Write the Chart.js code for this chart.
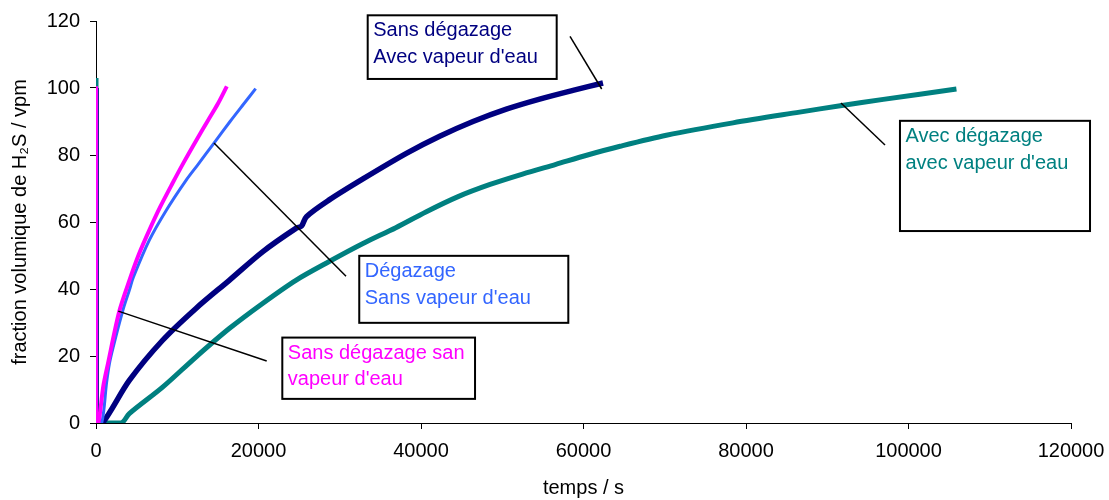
<!DOCTYPE html>
<html>
<head>
<meta charset="utf-8">
<script src="https://cdn.jsdelivr.net/npm/chart.js@4"></script>
<style>
  body { margin: 0; background: #fff; }
  .wrap { width: 1109px; height: 500px; }
</style>
</head>
<body>
<div class="wrap"><canvas id="chart"></canvas></div>
<script>
// temps (s) / fraction volumique (vpm)
const magentaT = [0, 0, 300, 900, 1450, 2850, 4100, 5300, 6550, 7900, 9400, 10800, 12300, 13800, 15000, 16100];
const magentaV = [100.5, 0, 0, 11, 17.5, 33.2, 42.5, 50.5, 57.5, 64.5, 71.5, 77.8, 84.2, 90.4, 95.3, 100.5];

const blueT = [0, 0, 700, 1300, 1650, 2100, 3350, 4100, 4600, 6550, 8600, 11100, 12500, 14500, 16500, 18100, 19650];
const blueV = [100, 0, 0, 12, 17.7, 22.5, 34, 39.6, 43.5, 54.5, 63.3, 72.5, 77, 83.5, 90, 95, 99.8];

const navyT = [0, 0, 800, 4100, 8200, 12300, 16400, 20500, 24600, 25300, 25900, 28700, 32800, 38200, 42300, 46400, 50500, 54600, 58700, 62400];
const navyV = [100, 0, 0, 12.7, 24.7, 34.2, 42.6, 51.1, 58.1, 58.8, 61.6, 66.6, 72.8, 80.5, 85.6, 90, 93.7, 96.7, 99.3, 101.5];

const tealT = [0, 0, 3100, 4100, 8200, 12300, 16400, 20500, 24600, 28700, 32800, 36900, 40600, 44500, 48500, 52500, 56600, 60500, 64500, 70200, 78400, 86600, 91600, 96900, 105900];
const tealV = [103, 0, 0, 2.8, 10.7, 19.7, 28.2, 35.7, 42.6, 48.2, 53.5, 58.3, 63, 67.5, 71.2, 74.3, 77.2, 80, 82.6, 85.9, 89.6, 92.8, 94.7, 96.6, 99.7];

const seriesNames = [
  "Sans dégazage san vapeur d'eau",
  "Dégazage Sans vapeur d'eau",
  "Sans dégazage Avec vapeur d'eau",
  "Avec dégazage avec vapeur d'eau"
];

const xTicks = [0, 20000, 40000, 60000, 80000, 100000, 120000];
const yTicks = [0, 20, 40, 60, 80, 100, 120];

const toPoints = (ts, vs) => ts.map((t, i) => ({ x: t, y: vs[i] }));

const FONT = "'Liberation Sans', Arial, sans-serif";

// callout boxes, in axis units (box corners, then connector ends)
const callouts = [
  { lines: ["Sans dégazage", "Avec vapeur d'eau"], color: "#000080",
    box: [33440, 121.7, 56700, 102.7], line: [58340, 115.4, 62240, 99.7] },
  { lines: ["Avec dégazage", "avec vapeur d'eau"], color: "#008080",
    box: [98950, 90.2, 122340, 57.3], line: [91690, 95.5, 97110, 83.0] },
  { lines: ["Dégazage", "Sans vapeur d'eau"], color: "#3366FF",
    box: [32400, 49.9, 58130, 29.9], line: [14520, 83.6, 30770, 43.8] },
  { lines: ["Sans dégazage san", "vapeur d'eau"], color: "#FF00FF",
    box: [22930, 25.5, 46650, 7.2], line: [2740, 33.4, 21010, 18.5] }
];

const calloutPlugin = {
  id: "callouts",
  afterDatasetsDraw(chart) {
    const { ctx } = chart;
    const xs = chart.scales.x, ys = chart.scales.y;
    ctx.save();
    callouts.forEach(c => {
      ctx.strokeStyle = "#000";
      ctx.lineWidth = 1.5;
      ctx.beginPath();
      ctx.moveTo(xs.getPixelForValue(c.line[0]), ys.getPixelForValue(c.line[1]));
      ctx.lineTo(xs.getPixelForValue(c.line[2]), ys.getPixelForValue(c.line[3]));
      ctx.stroke();

      const x0 = xs.getPixelForValue(c.box[0]);
      const y0 = ys.getPixelForValue(c.box[1]);
      const x1 = xs.getPixelForValue(c.box[2]);
      const y1 = ys.getPixelForValue(c.box[3]);
      ctx.fillStyle = "#fff";
      ctx.fillRect(x0, y0, x1 - x0, y1 - y0);
      ctx.lineWidth = 2;
      ctx.strokeRect(x0, y0, x1 - x0, y1 - y0);

      ctx.fillStyle = c.color;
      ctx.font = "20px " + FONT;
      ctx.textBaseline = "alphabetic";
      ctx.textAlign = "left";
      c.lines.forEach((s, i) => ctx.fillText(s, x0 + 5.5, y0 + 21 + i * 26.7));
    });
    ctx.restore();
  }
};

Chart.defaults.color = "#000";
Chart.defaults.font.family = FONT;
Chart.defaults.font.size = 20;

new Chart(document.getElementById("chart"), {
  type: "line",
  data: {
    datasets: [
      { label: seriesNames[0], data: toPoints(magentaT, magentaV), borderColor: "#FF00FF", borderWidth: 4 },
      { label: seriesNames[1], data: toPoints(blueT, blueV), borderColor: "#3366FF", borderWidth: 3 },
      { label: seriesNames[2], data: toPoints(navyT, navyV), borderColor: "#000080", borderWidth: 5.5 },
      { label: seriesNames[3], data: toPoints(tealT, tealV), borderColor: "#008080", borderWidth: 5 }
    ]
  },
  options: {
    responsive: true,
    maintainAspectRatio: false,
    animation: false,
    elements: {
      point: { radius: 0 },
      line: { tension: 0.3, fill: false }
    },
    layout: { padding: { top: 21, right: 38, bottom: 0, left: 0 } },
    plugins: {
      legend: { display: false },
      tooltip: { enabled: false }
    },
    scales: {
      x: {
        type: "linear",
        min: 0,
        max: 120000,
        afterBuildTicks: s => { s.ticks = xTicks.map(v => ({ value: v })); },
        afterFit: s => { s.height = 77; s.paddingLeft = 0; s.paddingRight = 0; },
        grid: { drawOnChartArea: false, drawTicks: true, tickLength: 6, color: "#000" },
        border: { display: true, color: "#000", width: 1 },
        ticks: { padding: 10, callback: v => String(v) },
        title: { display: true, text: "temps / s", padding: { top: 0, bottom: 0 } }
      },
      y: {
        min: 0,
        max: 120,
        afterBuildTicks: s => { s.ticks = yTicks.map(v => ({ value: v })); },
        afterFit: s => { s.width = 96; s.paddingTop = 0; s.paddingBottom = 0; },
        grid: { drawOnChartArea: false, drawTicks: true, tickLength: 6, color: "#000" },
        border: { display: true, color: "#000", width: 1 },
        ticks: { padding: 10, callback: v => String(v) },
        title: { display: true, text: "fraction volumique de H₂S / vpm", padding: { top: 8, bottom: 0 } }
      }
    }
  },
  plugins: [calloutPlugin]
});
</script>
</body>
</html>
